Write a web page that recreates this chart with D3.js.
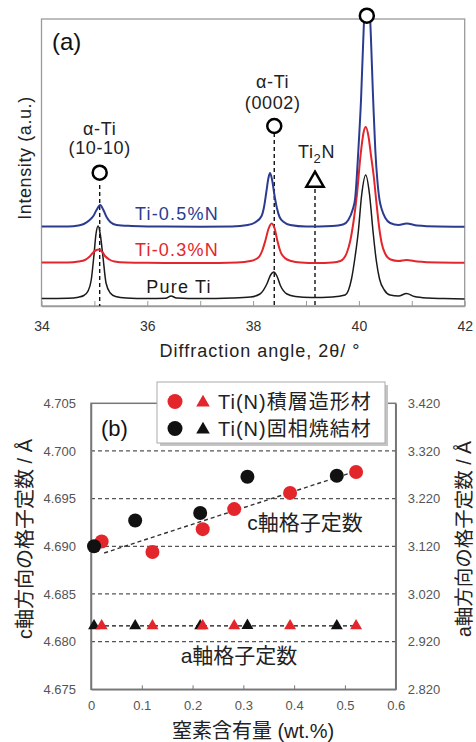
<!DOCTYPE html>
<html><head><meta charset="utf-8">
<script src="https://cdn.jsdelivr.net/npm/d3@7"></script>
<style>
html,body{margin:0;padding:0;background:#fff;}
svg{display:block;font-family:"Liberation Sans",Arial,"Noto Sans CJK JP",sans-serif;}
</style></head>
<body><svg id="c" width="476" height="742"></svg>
<script>
// ---------- (a) XRD data: [2theta, intensity (a.u.)] ----------
const thetaTicks = [34,35,36,37,38,39,40,41,42];
const thetaLabels = ["34","","36","","38","","40","","42"];
const pureTi = [[34.0,7.5],[34.5,7.8],[34.7,8.8],[34.8,10.5],[34.88,15],[34.94,26],[34.99,50],[35.03,72],[35.07,80],[35.11,72],[35.16,50],[35.22,23],[35.3,13],[35.4,9.5],[35.6,8],[36.0,7.5],[36.35,7.8],[36.45,10],[36.55,8],[37.0,7.5],[37.6,8],[37.95,9],[38.13,12],[38.26,22],[38.33,31],[38.39,34],[38.45,30],[38.52,20],[38.64,12],[38.8,9.5],[39.1,8.5],[39.5,9],[39.74,11],[39.86,27],[39.93,50],[39.99,75],[40.05,110],[40.13,131],[40.2,112],[40.27,73],[40.33,45],[40.39,27],[40.48,16],[40.59,11],[40.75,10],[40.9,12.5],[41.05,9.5],[41.3,8],[41.6,7.5],[42.0,7]];
const ti03N = [[34.0,43.5],[34.5,43.5],[34.7,44.5],[34.82,46],[34.9,49],[34.96,52.5],[35.02,55.5],[35.09,56.5],[35.15,54],[35.2,50],[35.28,46.5],[35.38,44.5],[35.6,43.5],[36.0,43.2],[37.0,43],[37.7,43.5],[37.95,45],[38.1,48.5],[38.17,55],[38.23,65],[38.29,77],[38.35,82.5],[38.41,77],[38.46,65],[38.52,54],[38.6,48],[38.72,45],[38.9,43.5],[39.2,43],[39.5,43.5],[39.65,45],[39.77,53],[39.84,66],[39.9,85],[39.96,110],[40.03,150],[40.09,174],[40.13,179],[40.18,170],[40.23,150],[40.28,130],[40.33,104],[40.38,80],[40.43,63],[40.5,52],[40.6,46.5],[40.75,45],[40.9,46],[41.1,44.5],[41.5,43.5],[42.0,43.3]];
const ti05N = [[34.0,79.5],[34.5,79.5],[34.7,80.5],[34.8,82],[34.9,85.5],[34.98,90],[35.04,96],[35.11,101],[35.17,96],[35.23,89],[35.3,84],[35.42,81],[35.7,80],[36.0,79.5],[37.0,79.3],[37.6,79.5],[37.9,81],[38.05,84],[38.16,90],[38.21,100],[38.25,114],[38.29,128],[38.32,133],[38.36,126],[38.4,112],[38.45,98],[38.5,89],[38.58,84],[38.7,81],[39.0,79.5],[39.5,80],[39.7,81.5],[39.8,86],[39.88,96],[39.93,108],[39.99,156],[40.04,206],[40.1,290],[40.15,330],[40.21,290],[40.27,206],[40.31,156],[40.35,125],[40.39,106],[40.43,97],[40.5,88],[40.59,83],[40.75,81],[40.9,82.5],[41.1,80.5],[41.5,79.5],[42.0,79.3]];
const seriesNames = ["Ti-0.5%N","Ti-0.3%N","Pure Ti"];
const seriesColors = ["#2b3c90","#e3262b","#1a1a1a"];
const seriesLabelPos = [[36.56,86],[36.56,50],[36.6,13]];
// peak markers (alpha-Ti circles, Ti2N triangle)
const alphaPeaks = [[35.1,133.3],[38.4,180],[40.15,290.3]];
const alphaDashTop = [121,173,null];
const ti2nPeak = [39.17,124.3];
const ti2nDashTop = 117;

// ---------- (b) lattice parameters ----------
const nAM = [0.021,0.121,0.220,0.282,0.392,0.522];
const cAM = [4.6905,4.6894,4.6918,4.6939,4.6956,4.6978];
const aAM = [2.953,2.953,2.953,2.953,2.953,2.953];
const nSS = [0.006,0.087,0.215,0.308,0.484];
const cSS = [4.6900,4.6927,4.6935,4.6973,4.6974];
const aSS = [2.953,2.953,2.953,2.954,2.953];
const cTrend = [[0.026,4.6893],[0.517,4.6978]];
const aTrend = [[0,2.953],[0.527,2.953]];
const nTicks = [0,0.1,0.2,0.3,0.4,0.5,0.6];
const cTicks = [4.675,4.680,4.685,4.690,4.695,4.700,4.705];
const aTicks = [2.820,2.920,3.020,3.120,3.220,3.320,3.420];
const gridC = [4.680,4.685,4.690,4.695,4.700];
const legendNames = ["Ti(N)積層造形材","Ti(N)固相焼結材"];
const RED = "#e3262b", BLK = "#111";

const svg = d3.select("#c");

// ================= panel (a) =================
const ax = {l:41.5, r:464.7, t:19, b:306};
const x1 = d3.scaleLinear().domain([34,42]).range([ax.l, ax.r]);
const y1 = d3.scaleLinear().domain([0,287]).range([ax.b, ax.t]);

svg.append("defs").append("clipPath").attr("id","clipA")
  .append("rect").attr("x",ax.l).attr("y",ax.t).attr("width",ax.r-ax.l).attr("height",ax.b-ax.t);

const gA = svg.append("g");
gA.append("rect").attr("x",ax.l).attr("y",ax.t).attr("width",ax.r-ax.l).attr("height",ax.b-ax.t)
  .attr("fill","none").attr("stroke","#9a9a9a").attr("stroke-width",1.3);

const xAxA = gA.append("g").attr("transform",`translate(0,${ax.b})`)
  .call(d3.axisBottom(x1).tickValues(thetaTicks).tickFormat((d,i)=>thetaLabels[i]).tickSizeInner(-5).tickSizeOuter(0).tickPadding(15));
xAxA.select(".domain").attr("stroke","#9a9a9a").attr("stroke-width",1.3);
xAxA.selectAll(".tick line").attr("stroke","#9a9a9a");
xAxA.selectAll("text").attr("font-size",14).attr("fill","#333").attr("font-family","Liberation Sans, Arial, sans-serif");

// dashed peak guides
alphaPeaks.forEach((p,i)=>{
  if(alphaDashTop[i]!==null){
    gA.append("line").attr("x1",x1(p[0])).attr("x2",x1(p[0])).attr("y1",y1(alphaDashTop[i])).attr("y2",y1(0))
      .attr("stroke","#111").attr("stroke-width",1.4).attr("stroke-dasharray","4,3");
  }
});
gA.append("line").attr("x1",x1(ti2nPeak[0])).attr("x2",x1(ti2nPeak[0])).attr("y1",y1(ti2nDashTop)).attr("y2",y1(0))
  .attr("stroke","#111").attr("stroke-width",1.4).attr("stroke-dasharray","4,3");

const line1 = d3.line().x(d=>x1(d[0])).y(d=>y1(d[1])).curve(d3.curveMonotoneX);
const curves = [ti05N, ti03N, pureTi];
const cg = gA.append("g").attr("clip-path","url(#clipA)");
[2,1,0].forEach(i=>{
  cg.append("path").datum(curves[i]).attr("d",line1).attr("fill","none")
    .attr("stroke",seriesColors[i]).attr("stroke-width",i===2?1.5:2);
});

seriesNames.forEach((s,i)=>{
  gA.append("text").attr("x",x1(seriesLabelPos[i][0])).attr("y",y1(seriesLabelPos[i][1]))
    .attr("text-anchor","middle").attr("font-size",18).attr("letter-spacing",1.2).attr("fill",seriesColors[i]).text(s);
});

// markers
alphaPeaks.forEach(p=>{
  gA.append("circle").attr("cx",x1(p[0])).attr("cy",y1(p[1])).attr("r",7)
    .attr("fill","#fff").attr("stroke","#000").attr("stroke-width",2.5);
});
gA.append("path").attr("d",d3.symbol(d3.symbolTriangle,130)())
  .attr("transform",`translate(${x1(ti2nPeak[0])},${y1(ti2nPeak[1])})`)
  .attr("fill","#fff").attr("stroke","#000").attr("stroke-width",2.5);

// annotations
const ann = gA.append("g").attr("font-size",18).attr("fill","#222").attr("text-anchor","middle").attr("letter-spacing",0.6);
ann.append("text").attr("x",x1(35.1)).attr("y",135).text("α-Ti");
ann.append("text").attr("x",x1(35.1)).attr("y",154).text("(10-10)");
ann.append("text").attr("x",x1(38.37)).attr("y",88).text("α-Ti");
ann.append("text").attr("x",x1(38.37)).attr("y",109).text("(0002)");
const t2 = ann.append("text").attr("x",x1(39.2)).attr("y",158);
t2.append("tspan").text("Ti");
t2.append("tspan").attr("font-size",13).attr("dy",5).text("2");
t2.append("tspan").attr("dy",-5).text("N");

gA.append("text").attr("x",52).attr("y",50).attr("font-size",24).attr("fill","#111").text("(a)");
gA.append("text").attr("x",260).attr("y",357).attr("text-anchor","middle").attr("font-size",18).attr("letter-spacing",1).attr("fill","#222")
  .text("Diffraction angle, 2θ/ °");
gA.append("text").attr("transform","translate(31,158) rotate(-90)").attr("text-anchor","middle")
  .attr("font-size",18).attr("letter-spacing",0.6).attr("fill","#222").text("Intensity (a.u.)");

// ================= panel (b) =================
const bx = {l:91, r:395.7, t:403.3, b:689.3};
const x2 = d3.scaleLinear().domain([0,0.6]).range([bx.l,bx.r]);
const yC = d3.scaleLinear().domain([4.675,4.705]).range([bx.b,bx.t]);
const yA = d3.scaleLinear().domain([2.82,3.42]).range([bx.b,bx.t]);
const gB = svg.append("g");

gB.append("rect").attr("x",bx.l).attr("y",bx.t).attr("width",bx.r-bx.l).attr("height",bx.b-bx.t)
  .attr("fill","none").attr("stroke","#777").attr("stroke-width",1.5);

gridC.forEach(v=>{
  gB.append("line").attr("x1",bx.l).attr("x2",bx.r).attr("y1",yC(v)).attr("y2",yC(v))
    .attr("stroke","#555").attr("stroke-width",1.2).attr("stroke-dasharray","4,3");
});

const xAxB = gB.append("g").attr("transform",`translate(0,${bx.b})`)
  .call(d3.axisBottom(x2).tickValues(nTicks).tickFormat(d=>d===0?"0":d3.format(".1f")(d)).tickSizeInner(-4).tickSizeOuter(0).tickPadding(11));
const yAxL = gB.append("g").attr("transform",`translate(${bx.l},0)`)
  .call(d3.axisLeft(yC).tickValues(cTicks).tickFormat(d3.format(".3f")).tickSizeInner(0).tickSizeOuter(0).tickPadding(15));
const yAxR = gB.append("g").attr("transform",`translate(${bx.r},0)`)
  .call(d3.axisRight(yA).tickValues(aTicks).tickFormat(d3.format(".3f")).tickSizeInner(0).tickSizeOuter(0).tickPadding(12));
[xAxB,yAxL,yAxR].forEach(g=>{
  g.select(".domain").attr("stroke","#777").attr("stroke-width",1.5);
  g.selectAll(".tick line").attr("stroke","#777");
  g.selectAll("text").attr("font-size",13).attr("fill","#555").attr("font-family","Liberation Sans, Arial, sans-serif");
});

const line2c = d3.line().x(d=>x2(d[0])).y(d=>yC(d[1]));
const line2a = d3.line().x(d=>x2(d[0])).y(d=>yA(d[1]));
gB.append("path").attr("d",line2c(cTrend)).attr("stroke","#333").attr("stroke-width",1.4).attr("stroke-dasharray","4,3").attr("fill","none");
gB.append("path").attr("d",line2a(aTrend)).attr("stroke","#111").attr("stroke-width",1.4).attr("stroke-dasharray","4,3").attr("fill","none");

const tri = d3.symbol(d3.symbolTriangle,62);
// circles (c-axis)
nAM.forEach((n,i)=>gB.append("circle").attr("cx",x2(n)).attr("cy",yC(cAM[i])).attr("r",7).attr("fill",RED));
nSS.forEach((n,i)=>gB.append("circle").attr("cx",x2(n)).attr("cy",yC(cSS[i])).attr("r",7).attr("fill",BLK));
// triangles (a-axis)
nSS.forEach((n,i)=>gB.append("path").attr("d",tri()).attr("transform",`translate(${x2(n)},${yA(aSS[i])})`).attr("fill",BLK));
nAM.forEach((n,i)=>gB.append("path").attr("d",tri()).attr("transform",`translate(${x2(n)},${yA(aAM[i])})`).attr("fill",RED));

gB.append("text").attr("x",101).attr("y",436).attr("font-size",22).attr("fill","#111").text("(b)");
gB.append("text").attr("x",305).attr("y",522).attr("dominant-baseline","central").attr("text-anchor","middle")
  .attr("font-size",21).attr("fill","#222").text("c軸格子定数");
gB.append("text").attr("x",239).attr("y",655).attr("dominant-baseline","central").attr("text-anchor","middle")
  .attr("font-size",21).attr("fill","#222").text("a軸格子定数");

// legend
const lg = gB.append("g");
lg.append("rect").attr("x",160).attr("y",385).attr("width",228).attr("height",61).attr("fill","#c4c4c4");
lg.append("rect").attr("x",157).attr("y",382).attr("width",228).attr("height",61).attr("fill","#fff").attr("stroke","#aaa").attr("stroke-width",1);
const legCols = [RED,BLK];
const legY = [401.5,428.5];
legendNames.forEach((s,i)=>{
  lg.append("circle").attr("cx",175).attr("cy",legY[i]).attr("r",7.5).attr("fill",legCols[i]);
  lg.append("path").attr("d",d3.symbol(d3.symbolTriangle,80)()).attr("transform",`translate(203,${legY[i]+1})`).attr("fill",legCols[i]);
  lg.append("text").attr("x",218).attr("y",legY[i]).attr("dominant-baseline","central").attr("font-size",20).attr("letter-spacing",1).attr("fill","#222").text(s);
});

// axis titles
gB.append("text").attr("x",253).attr("y",731).attr("dominant-baseline","central").attr("text-anchor","middle")
  .attr("font-size",20).attr("fill","#222").text("窒素含有量 (wt.%)");
gB.append("text").attr("transform","translate(25,539) rotate(-90)").attr("dominant-baseline","central").attr("text-anchor","middle")
  .attr("font-size",20).attr("fill","#222").text("c軸方向の格子定数 / Å");
gB.append("text").attr("transform","translate(464,539) rotate(-90)").attr("dominant-baseline","central").attr("text-anchor","middle")
  .attr("font-size",19.5).attr("fill","#222").text("a軸方向の格子定数 / Å");
</script></body></html>
